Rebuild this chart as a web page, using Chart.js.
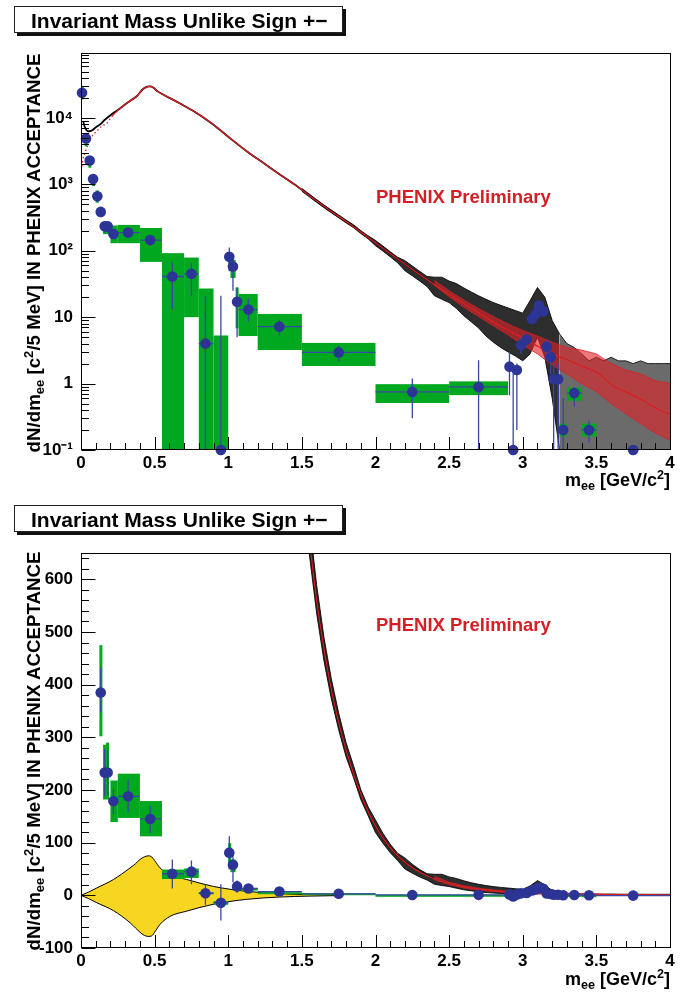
<!DOCTYPE html>
<html><head><meta charset="utf-8">
<title>Invariant Mass Unlike Sign +−</title>
<script src="https://cdn.jsdelivr.net/npm/chart.js@4.4.1/dist/chart.umd.min.js"></script>
<style>
html,body{margin:0;padding:0;background:#fff;}
body{width:698px;height:992px;position:relative;overflow:hidden;font-family:"Liberation Sans",Arial,Helvetica,sans-serif;font-weight:bold;color:#000;}
canvas.cv{position:absolute;left:0;width:698px;height:496px;}
.tbox{position:absolute;left:14px;width:329px;height:27px;box-sizing:border-box;border:1px solid #222;background:#fff;box-shadow:3px 3px 0 #111;font-size:21px;line-height:25px;padding-left:16px;padding-top:1px;white-space:nowrap;}
.ytitle{position:absolute;left:34px;white-space:nowrap;font-size:18.7px;line-height:20px;transform:translate(-50%,-50%) rotate(-90deg);}
.xtitle{position:absolute;right:28px;white-space:nowrap;font-size:18px;line-height:18px;}
.prelim{position:absolute;left:376px;white-space:nowrap;font-size:18.5px;line-height:20px;color:rgb(214,30,38);}
.sb{font-size:70%;position:relative;top:0.3em;line-height:0;}
.sp{font-size:70%;position:relative;top:-0.55em;line-height:0;}
</style>
</head>
<body>
<canvas id="c1" class="cv" width="698" height="496" style="top:0"></canvas>
<canvas id="c2" class="cv" width="698" height="496" style="top:496px"></canvas>

<div class="tbox" style="top:6px">Invariant Mass Unlike Sign +−</div>
<div class="tbox" style="top:505px">Invariant Mass Unlike Sign +−</div>
<div class="ytitle" style="top:253px">dN/dm<span class="sb">ee</span> [c<span class="sp">2</span>/5 MeV] IN PHENIX ACCEPTANCE</div>
<div class="ytitle" style="top:751px">dN/dm<span class="sb">ee</span> [c<span class="sp">2</span>/5 MeV] IN PHENIX ACCEPTANCE</div>
<div class="xtitle" style="top:471px">m<span class="sb">ee</span> [GeV/c<span class="sp">2</span>]</div>
<div class="xtitle" style="top:970px">m<span class="sb">ee</span> [GeV/c<span class="sp">2</span>]</div>
<div class="prelim" style="top:187px">PHENIX Preliminary</div>
<div class="prelim" style="top:615px">PHENIX Preliminary</div>

<script>
// ---------------- data ----------------
const xTickValues = [0, 0.5, 1, 1.5, 2, 2.5, 3, 3.5, 4];
const xTickLabels = ['0', '0.5', '1', '1.5', '2', '2.5', '3', '3.5', '4'];
const logTickValues = [0.1, 1, 10, 100, 1000, 10000];
const logTickLabels = ['10⁻¹', '1', '10', '10²', '10³', '10⁴'];
const linTickValues = [-100, 0, 100, 200, 300, 400, 500, 600];
const linTickLabels = ['-100', '0', '100', '200', '300', '400', '500', '600'];

// foreground (unlike-sign) spectrum, black
const totalMass  = [0.015,0.02,0.03,0.045,0.06,0.08,0.10,0.13,0.16,0.20,0.25,0.31,0.38,0.42,0.45,0.47,0.49,0.52,0.56,0.67,0.79,0.90,1.01,1.125,1.24,1.35,1.47,1.58,1.69,1.80,1.92,2.02,2.17,2.39];
const totalYield = [9000,8000,7000,6300,6300,6600,7200,8000,9300,11000,13200,16600,21400,27000,29500,29800,28800,25100,22400,16600,11700,7900,5000,3160,2090,1410,930,605,405,276,178,122,70,32];

// mixed-event background, red
const bkgMass  = [0.005,0.015,0.027,0.045,0.061,0.08,0.106,0.14,0.174,0.21,0.25,0.31,0.38,0.42,0.45,0.47,0.49,0.52,0.56,0.67,0.79,0.90,1.01,1.125,1.24,1.35,1.47,1.58,1.69,1.80,1.92,2.02,2.17,2.39,2.62,2.84,2.96,3.07,3.18,3.30,3.41,3.50,3.62,3.73,3.84,3.95,4.0];
const bkgYield = [1860,2500,3000,3900,4700,5500,6300,7500,8300,10500,13000,16600,21400,27000,29500,29800,28800,25100,22400,16600,11700,7900,5000,3160,2090,1410,930,605,405,276,178,122,70,32,15,7.5,5.4,4.0,2.9,2.3,1.8,1.5,0.9,0.7,0.52,0.38,0.35];

// spread (bin-to-bin fluctuation envelope) of the black histogram
const noiseMass = [1.50,1.55,1.60,1.65,1.70,1.75,1.80,1.85,1.90,1.95,2.00,2.05,2.10,2.15,2.20,2.25,2.30,2.35,2.40,2.45,2.50,2.55,2.60,2.65,2.70,2.75,2.80,2.85,2.90,2.95,3.00,3.05,3.10,3.15,3.20,3.25,3.30,3.35,3.40,3.45,3.50,3.55,3.60,3.65,3.70,3.75,3.80,3.85,3.90,3.95,4.00];
const noiseHigh = [868,714,590,490,411,346,290,247,201,168,143,118,97,80,71,59,49,41,40,40,35,32,27.5,24,21,18.6,16.6,15.1,13.8,12.6,11.5,17.8,28,20,8.9,5.6,4.0,3.5,2.8,2.2,2.5,2.2,2.5,2.2,2.2,2.0,2.2,2.0,2.0,2.0,2.0];
const noiseLow  = [788,649,536,445,373,314,263,224,182,151,119,99,81,66,50,42,35,29,21,18.6,16.6,13.5,10.5,8.5,6.9,5.2,4.2,3.5,3.0,2.6,2.2,2.8,5.0,2.5,0.6,0.1,0.1,0.1,0.1,0.1,0.1,0.1,0.1,0.1,0.1,0.1,0.1,0.1,0.1,0.1,0.1];

// spread of the red background
const bkgNoiseMass = [2.4,2.5,2.6,2.7,2.8,2.9,3.0,3.1,3.2,3.3,3.4,3.5,3.6,3.7,3.8,3.9,4.0];
const bkgNoiseHigh = [36,25,18.2,13.5,10.2,7.9,6.3,5.2,4.2,3.5,3.2,2.8,2.0,1.6,1.4,1.1,1.0];
const bkgNoiseLow  = [30,20.4,14.1,10.2,7.4,5.4,3.8,2.8,1.9,1.4,1.0,0.76,0.5,0.35,0.25,0.18,0.14];

// yellow band (lower panel)
const bandMass  = [0,0.05,0.107,0.22,0.333,0.37,0.40,0.43,0.457,0.48,0.50,0.537,0.604,0.718,0.898,1.125,1.35,1.55,1.75];
const bandUpper = [0,6,14,30,52,60,68,73,75,73,66,52,39,30,17,7.6,3.2,1.5,0.5];
const bandLower = [0,-6,-14,-29,-52,-62,-70,-76,-78,-77,-70,-55,-40,-30,-17,-7.6,-3.2,-1.5,-0.5];

// signal points
const ptMass   = [0.007,0.034,0.059,0.082,0.111,0.134,0.161,0.181,0.22,0.32,0.47,0.62,0.75,0.845,0.95,1.007,1.032,1.06,1.137,1.347,1.75,2.25,2.70,2.91,2.935,2.96,2.988,3.027,3.063,3.088,3.11,3.14,3.163,3.19,3.21,3.24,3.275,3.35,3.45,3.75];
const binLow   = [0,0.025,0.05,0.075,0.1,0.125,0.15,0.17,0.2,0.25,0.4,0.55,0.7,0.8,0.9,1.0,1.015,1.05,1.07,1.2,1.5,2.0,2.5,2.9,2.925,2.95,2.975,3.0,3.05,3.075,3.1,3.125,3.15,3.175,3.2,3.225,3.25,3.3,3.4,3.5];
const binHigh  = [0.015,0.045,0.07,0.09,0.12,0.145,0.17,0.19,0.25,0.4,0.55,0.7,0.8,0.9,1.0,1.015,1.05,1.07,1.2,1.5,2.0,2.5,2.9,2.925,2.95,2.975,3.0,3.05,3.075,3.1,3.125,3.15,3.175,3.2,3.225,3.25,3.3,3.4,3.5,4.0];
const ptYield  = [24000,4900,2290,1200,660,385,233,233,179,188,145,41,45,4,-14,81,58,17,13,7.2,2.95,0.75,0.89,1.8,-2,1.6,3.8,4.6,9.4,11.2,15,12.3,3.6,2.5,1.16,1.16,0.2,0.72,0.2,-0.5];
const statLow  = [23000,4700,2200,1140,620,347,188,190,153,158,118,13,21,-18,-48,49,25,5,8.5,5.3,2.15,0.30,-1,0.67,-3,0.2,2.8,3.6,8,9.6,13,10.7,2.6,1.4,-0.5,-0.5,-0.3,0.45,0.13,-2];
const statHigh = [25000,5100,2380,1260,700,432,278,275,202,220,170,68,66,21,21,112,77,28,19,9.2,3.75,1.19,2.24,3.0,1.5,2.0,5.0,5.7,11,13,17,14,4.6,3.6,2.0,2.0,0.6,0.89,0.28,0.05];
const sysLogLow  = [19000,3730,1780,940,530,322,178,178,130,130,68,0.05,10,0.05,0.05,56,39,6.8,5.2,3.2,1.84,0.51,0.67,1.55,null,1.4,3.3,4.0,8.2,10,13.5,11,3.2,2.2,1.0,1.0,0.16,0.55,0.16,null];
const sysLogHigh = [29000,5900,2650,1410,810,455,275,275,240,245,220,92,79,27,5.3,90,73,28,22.4,11.2,4.1,0.98,1.08,2.1,null,1.8,4.3,5.3,10.5,12.5,16.5,13.8,4.1,2.8,1.35,1.35,0.25,0.87,0.25,null];
const sysLinLow  = [null,null,null,null,null,302,182,182,139,147,112,31,33,2,-18,61,44,14,9,3,2,0.5,0.67,1.55,null,1.4,3.3,4.0,8.2,10,13.5,11,3.2,2.2,1.0,1.0,0.16,0.55,0.16,null];
const sysLinHigh = [null,null,null,null,null,475,286,290,218,231,179,49,51,6,-11,99,68,20,14,6,4,1.0,1.08,2.1,null,1.8,4.3,5.3,10.5,12.5,16.5,13.8,4.1,2.8,1.35,1.35,0.25,0.87,0.25,null];

// ---------------- styling ----------------
const GREEN = 'rgb(0,168,32)';
const BLUE = 'rgb(44,52,150)';
const BAR = 'rgb(58,70,165)';
const RED = 'rgb(214,32,36)';
const YELLOW = 'rgb(246,214,32)';
const TICKFONT = {family: '"Liberation Sans", Arial, sans-serif', size: 17, weight: 'bold'};

const errPlugin = {
  id: 'errs',
  beforeDatasetDraw(chart, args) {
    const ds = chart.data.datasets[args.index];
    if (!ds.errs) return;
    const e = ds.errs;
    const {ctx, chartArea: a} = chart;
    const xs = chart.scales.x, ys = chart.scales.y;
    const fy = v => ys.getPixelForValue(e.log ? Math.max(v, ys.min) : v);
    ctx.save();
    ctx.beginPath(); ctx.rect(a.left, a.top, a.right - a.left, a.bottom - a.top); ctx.clip();
    ctx.fillStyle = GREEN;
    for (let i = 0; i < ptMass.length; i++) {
      const lo = e.sysLow[i], hi = e.sysHigh[i];
      if (lo == null || hi == null) continue;
      const x0 = xs.getPixelForValue(binLow[i]), x1 = xs.getPixelForValue(binHigh[i]);
      const y0 = fy(hi), y1 = fy(lo);
      ctx.fillRect(x0, y0, Math.max(x1 - x0, 3), Math.max(y1 - y0, 2));
    }
    ctx.strokeStyle = BAR; ctx.lineWidth = 1.3;
    ctx.beginPath();
    for (let i = 0; i < ptMass.length; i++) {
      if (!e.log && ptYield[i] > ys.max) continue;
      const xc = xs.getPixelForValue(ptMass[i]);
      const yc = fy(ptYield[i]);
      ctx.moveTo(xc, fy(statHigh[i])); ctx.lineTo(xc, fy(statLow[i]));
      ctx.moveTo(xs.getPixelForValue(binLow[i]), yc); ctx.lineTo(xs.getPixelForValue(binHigh[i]), yc);
    }
    ctx.stroke();
    ctx.restore();
  }
};

const framePlugin = {
  id: 'frame',
  afterDatasetsDraw(chart, args, o) {
    const {ctx, chartArea: a} = chart;
    const xs = chart.scales.x, ys = chart.scales.y;
    ctx.save();
    ctx.strokeStyle = '#000'; ctx.lineWidth = 1;
    ctx.strokeRect(Math.round(a.left) + 0.5, Math.round(a.top) + 0.5, Math.round(a.right - a.left), Math.round(a.bottom - a.top) - 1);
    ctx.beginPath();
    const b = Math.round(a.bottom) - 0.5, l = Math.round(a.left) + 0.5;
    for (const v of o.xMinor) { const p = Math.round(xs.getPixelForValue(v)) + 0.5; ctx.moveTo(p, b); ctx.lineTo(p, b - 6.5); }
    for (const v of o.xMajor) { const p = Math.round(xs.getPixelForValue(v)) + 0.5; ctx.moveTo(p, b); ctx.lineTo(p, b - 12.5); }
    for (const v of o.yMinor) { const p = Math.round(ys.getPixelForValue(v)) + 0.5; ctx.moveTo(l, p); ctx.lineTo(l + 7.5, p); }
    for (const v of o.yMajor) { const p = Math.round(ys.getPixelForValue(v)) + 0.5; ctx.moveTo(l, p); ctx.lineTo(l + 14, p); }
    ctx.stroke();
    ctx.restore();
  }
};

function pts(xsArr, ysArr, f) { return xsArr.map((m, i) => ({x: m, y: f ? f(ysArr[i]) : ysArr[i]})); }
function sel(arr, keep) { return arr.filter((v, i) => keep(noiseMass[i])); }

function curveDatasets() {
  const dense = m => m <= 3.25, sparse = m => m >= 3.25;
  return [
    {data: pts(sel(noiseMass, dense), sel(noiseHigh, dense)), borderColor: 'rgba(0,0,0,0.85)', borderWidth: 1, pointRadius: 0, fill: false, order: 10, tension: 0},
    {data: pts(sel(noiseMass, dense), sel(noiseLow, dense)), borderColor: 'rgba(0,0,0,0.85)', borderWidth: 1, pointRadius: 0, fill: '-1', backgroundColor: 'rgba(0,0,0,0.82)', order: 10, tension: 0},
    {data: pts(sel(noiseMass, sparse), sel(noiseHigh, sparse)), borderColor: 'rgba(0,0,0,0.8)', borderWidth: 1, pointRadius: 0, fill: false, order: 10, tension: 0},
    {data: pts(sel(noiseMass, sparse), sel(noiseLow, sparse)), borderColor: 'rgba(0,0,0,0.8)', borderWidth: 1, pointRadius: 0, fill: '-1', backgroundColor: 'rgba(0,0,0,0.58)', order: 10, tension: 0},
    {data: pts(totalMass, totalYield), borderColor: '#000', borderWidth: 1.8, pointRadius: 0, fill: false, order: 9, cubicInterpolationMode: 'monotone'},
    {data: pts(bkgNoiseMass, bkgNoiseHigh), borderColor: 'rgba(220,30,35,0.75)', borderWidth: 1, pointRadius: 0, fill: false, order: 8, tension: 0},
    {data: pts(bkgNoiseMass, bkgNoiseLow), borderColor: 'rgba(220,30,35,0.75)', borderWidth: 1, pointRadius: 0, fill: '-1', backgroundColor: 'rgba(222,35,40,0.62)', order: 8, tension: 0},
    {data: pts(bkgMass, bkgYield), borderColor: RED, borderWidth: 1.3, pointRadius: 0, fill: false, order: 7, cubicInterpolationMode: 'monotone',
      segment: {borderDash: c => (c.p0.parsed.x < 0.2 ? [1.5, 2.5] : undefined)}}
  ];
}

function range(a, b, s) { const r = []; for (let v = a; v <= b + 1e-9; v += s) r.push(+v.toFixed(6)); return r; }
const xMinorTicks = range(0, 4, 0.1).filter(v => Math.abs(v * 2 - Math.round(v * 2)) > 1e-6);
const logMinor = [];
for (let d = -1; d <= 4; d++) for (let k = 2; k <= 9; k++) { const v = k * Math.pow(10, d); if (v < 95000) logMinor.push(v); }
const linMinor = range(-100, 640, 20).filter(v => v % 100 !== 0);

function baseOptions(yScale, padTop, xHeight, frameOpts) {
  return {
    responsive: false, animation: false, devicePixelRatio: 1,
    layout: {padding: {top: padTop, right: 28, left: 0, bottom: 0}},
    plugins: {legend: {display: false}, tooltip: {enabled: false}, frame: frameOpts},
    scales: {
      x: {
        type: 'linear', min: 0, max: 4,
        afterBuildTicks: s => { s.ticks = xTickValues.map(v => ({value: v})); },
        ticks: {callback: (v, i) => xTickLabels[i], font: TICKFONT, color: '#000', padding: 3, maxRotation: 0, autoSkip: false},
        grid: {display: false, drawTicks: false}, border: {display: false},
        afterFit: s => { s.height = xHeight; }
      },
      y: yScale
    }
  };
}

// ---------- top panel (log) ----------
const logVal = v => Math.max(v, 0.1);
new Chart(document.getElementById('c1'), {
  type: 'line',
  data: {datasets: [
    ...curveDatasets(),
    {data: pts(ptMass, ptYield, logVal), showLine: false, pointRadius: 5.3, pointBackgroundColor: BLUE, pointBorderColor: BLUE, pointBorderWidth: 0, clip: false, order: 0,
      errs: {log: true, sysLow: sysLogLow, sysHigh: sysLogHigh}}
  ]},
  options: baseOptions({
    type: 'logarithmic', min: 0.1, max: 95000,
    afterBuildTicks: s => { s.ticks = logTickValues.map(v => ({value: v})); },
    ticks: {callback: (v, i) => logTickLabels[i], font: TICKFONT, color: '#000', padding: 8, autoSkip: false},
    grid: {display: false, drawTicks: false}, border: {display: false},
    afterFit: s => { s.width = 81; }
  }, 53, 46, {xMajor: xTickValues, xMinor: xMinorTicks, yMajor: logTickValues, yMinor: logMinor}),
  plugins: [errPlugin, framePlugin]
});

// ---------- bottom panel (linear) ----------
const linMax = 650;
new Chart(document.getElementById('c2'), {
  type: 'line',
  data: {datasets: [
    {data: pts(bandMass, bandUpper), borderColor: '#000', borderWidth: 1, pointRadius: 0, fill: false, order: 20, cubicInterpolationMode: 'monotone'},
    {data: pts(bandMass, bandLower), borderColor: '#000', borderWidth: 1, pointRadius: 0, fill: '-1', backgroundColor: YELLOW, order: 20, cubicInterpolationMode: 'monotone'},
    ...curveDatasets(),
    {data: pts(ptMass, ptYield, v => (v > linMax ? null : v)), showLine: false, pointRadius: 5.3, pointBackgroundColor: BLUE, pointBorderColor: BLUE, pointBorderWidth: 0, clip: false, order: 0,
      errs: {log: false, sysLow: sysLinLow, sysHigh: sysLinHigh}}
  ]},
  options: baseOptions({
    type: 'linear', min: -100, max: linMax,
    afterBuildTicks: s => { s.ticks = linTickValues.map(v => ({value: v})); },
    ticks: {callback: (v, i) => linTickLabels[i], font: TICKFONT, color: '#000', padding: 8, autoSkip: false},
    grid: {display: false, drawTicks: false}, border: {display: false},
    afterFit: s => { s.width = 81; }
  }, 57, 44, {xMajor: xTickValues, xMinor: xMinorTicks, yMajor: linTickValues, yMinor: linMinor}),
  plugins: [errPlugin, framePlugin]
});
</script>
</body></html>
